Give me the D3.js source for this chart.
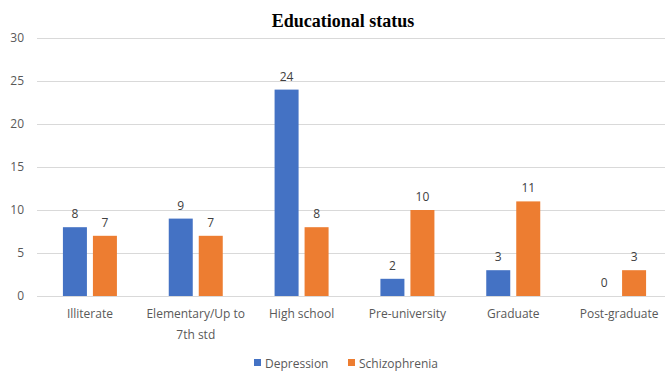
<!DOCTYPE html>
<html><head><meta charset="utf-8">
<script src="https://cdn.jsdelivr.net/npm/d3@7"></script>
<style>body{margin:0;background:#fff}svg{display:block}</style>
</head><body>
<script>
const categories = ["Illiterate","Elementary/Up to 7th std","High school","Pre-university","Graduate","Post-graduate"];
const seriesNames = ["Depression","Schizophrenia"];
const depression = [8,9,24,2,3,0];
const schizophrenia = [7,7,8,10,11,3];
const yTicks = [0,5,10,15,20,25,30];
const colors = ["#4472C4","#ED7D31"];

const W=667,H=382;
const svg=d3.select("body").append("svg").attr("width",W).attr("height",H);
const font="'Open Sans','Noto Sans',sans-serif";
const y=d3.scaleLinear().domain([0,30]).range([296,38]);
const x=d3.scaleBand().domain(categories).range([37,672]);
const xs=d3.scaleBand().domain(seriesNames).range([0,54]).paddingInner(0.2);

svg.append("text").attr("x",343).attr("y",27).attr("text-anchor","middle")
  .attr("font-family","'Liberation Serif','Times New Roman',serif").attr("font-weight","bold")
  .attr("font-size",18).attr("fill","#000").text("Educational status");

const yAxis=svg.append("g").attr("transform","translate(37,0)")
  .call(d3.axisLeft(y).tickValues(yTicks).tickSize(-628).tickPadding(13));
yAxis.select(".domain").remove();
yAxis.selectAll("line").attr("stroke","#d9d9d9");
yAxis.selectAll("text").attr("font-family",font).attr("font-size",12).attr("fill","#595959");

const data=categories.map((c,i)=>({c,vals:[depression[i],schizophrenia[i]]}));
const g=svg.append("g");
data.forEach(d=>{
  const cx=x(d.c)+x.bandwidth()/2-27;
  d.vals.forEach((v,j)=>{
    const bx=cx+xs(seriesNames[j]);
    g.append("rect").attr("x",bx).attr("y",y(v)).attr("width",xs.bandwidth()).attr("height",y(0)-y(v)).attr("fill",colors[j]);
    g.append("text").attr("x",bx+xs.bandwidth()/2).attr("y",y(v)-9).attr("text-anchor","middle")
      .attr("font-family",font).attr("font-size",12).attr("fill","#404040").text(v);
  });
});

const xAxis=svg.append("g").attr("transform","translate(0,296)")
  .call(d3.axisBottom(x).tickSize(0).tickPadding(0));
xAxis.select(".domain").remove();
xAxis.selectAll(".tick text").each(function(d){
  const t=d3.select(this);
  t.text(null).attr("font-family",font).attr("font-size",12).attr("fill","#595959").attr("y",0).attr("dy",null);
  const lines = d==="Elementary/Up to 7th std" ? ["Elementary/Up to","7th std"] : [d];
  lines.forEach((l,k)=>t.append("tspan").attr("x",0).attr("y",22+k*21).text(l));
});

const lg=svg.append("g").attr("font-family",font).attr("font-size",12).attr("fill","#595959");
const lx=[254,348];
seriesNames.forEach((s,j)=>{
  lg.append("rect").attr("x",lx[j]).attr("y",359).attr("width",7).attr("height",7).attr("fill",colors[j]);
  lg.append("text").attr("x",lx[j]+11).attr("y",368).attr("fill","#595959").text(s);
});
</script>
</body></html>
